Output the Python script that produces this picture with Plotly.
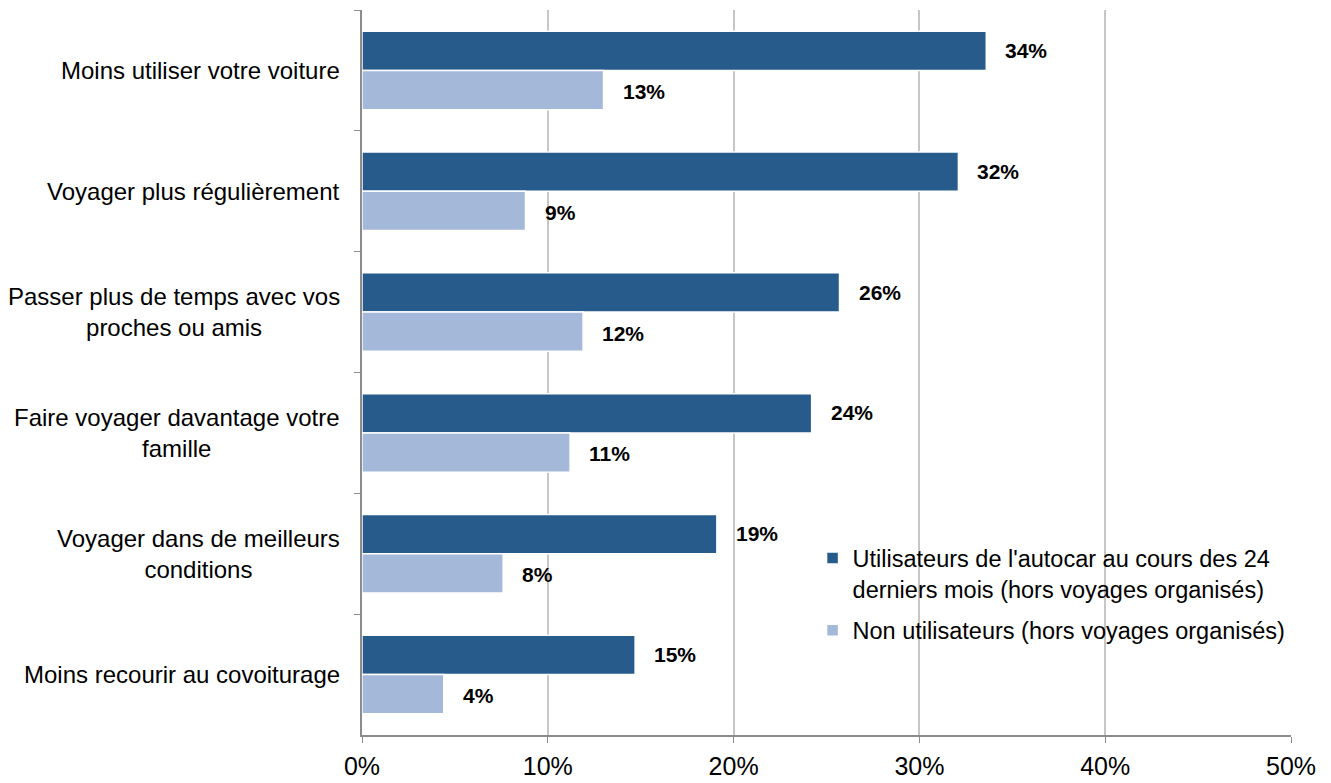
import plotly.graph_objects as go

categories = [
    "Moins utiliser votre voiture",
    "Voyager plus régulièrement",
    "Passer plus de temps avec vos<br>proches ou amis",
    "Faire voyager davantage votre<br>famille",
    "Voyager dans de meilleurs<br>conditions",
    "Moins recourir au covoiturage",
]
users = [33.6, 32.1, 25.7, 24.2, 19.1, 14.7]
non_users = [13.0, 8.8, 11.9, 11.2, 7.6, 4.4]
series_names = [
    "Utilisateurs de l'autocar au cours des 24<br>derniers mois (hors voyages organisés)",
    "Non utilisateurs (hors voyages organisés)",
]
x_ticks = [0, 10, 20, 30, 40, 50]
x_tick_labels = ["0%", "10%", "20%", "30%", "40%", "50%"]

DARK = "#275B8C"
LIGHT = "#A4B9D9"
FONT = "Arial, Liberation Sans, sans-serif"

fig = go.Figure()
for i, (vals, name, color) in enumerate([(users, series_names[0], DARK),
                                          (non_users, series_names[1], LIGHT)]):
    fig.add_trace(go.Bar(
        y=categories, x=vals, orientation="h", name=name, legendgroup=f"g{i}",
        marker=dict(color=color, line=dict(color="white", width=1.5)),
        hoverinfo="skip",
    ))

annotations = []
# value labels beside each bar
for vals, shift in [(users, 20), (non_users, -21)]:
    for cat, v in zip(categories, vals):
        annotations.append(dict(
            x=v, y=cat, xref="x", yref="y", text=f"<b>{v:.0f}%</b>",
            showarrow=False, xanchor="left", xshift=17, yshift=shift,
            font=dict(family=FONT, size=21, color="black"),
        ))
# category labels, lines centred
for cat in categories:
    annotations.append(dict(
        x=0, y=cat, xref="paper", yref="y", text=cat, showarrow=False,
        xanchor="right", align="center", xshift=-20,
        font=dict(family=FONT, size=24, color="black"),
    ))

fig.update_layout(
    width=1331, height=783,
    margin=dict(l=362, r=40, t=10, b=48),
    paper_bgcolor="white", plot_bgcolor="white",
    barmode="group", bargap=0.35, bargroupgap=0,
    font=dict(family=FONT, color="black"),
    annotations=annotations,
    # white panel behind the legend, hiding the gridlines
    shapes=[dict(type="rect", xref="paper", yref="paper",
                 x0=0.4876, x1=0.997, y0=0.0786, y1=0.2828,
                 fillcolor="white", line=dict(width=0), layer="between")],
    showlegend=True,
    legend=dict(
        x=0.485, y=0.274, xanchor="left", yanchor="top",
        bgcolor="rgba(0,0,0,0)", font=dict(family=FONT, size=23.5, color="black"),
        valign="top", tracegroupgap=8,
    ),
    xaxis=dict(
        range=[0, 50], tickvals=x_ticks, ticktext=x_tick_labels,
        showgrid=True, gridcolor="#C6C6C6", gridwidth=1.5,
        showline=True, linecolor="#8C8C8C", linewidth=1.5,
        ticks="outside", ticklen=6, tickcolor="#8C8C8C",
        tickfont=dict(family=FONT, size=25, color="black"),
        ticklabelstandoff=2, automargin=False,
        zeroline=False, fixedrange=True,
    ),
    yaxis=dict(
        autorange="reversed", showticklabels=False, automargin=False,
        showline=True, linecolor="#8C8C8C", linewidth=1.5,
        ticks="outside", tickson="boundaries", ticklen=6, tickcolor="#8C8C8C",
        showgrid=False, fixedrange=True,
    ),
)

fig.write_html("out.html")
